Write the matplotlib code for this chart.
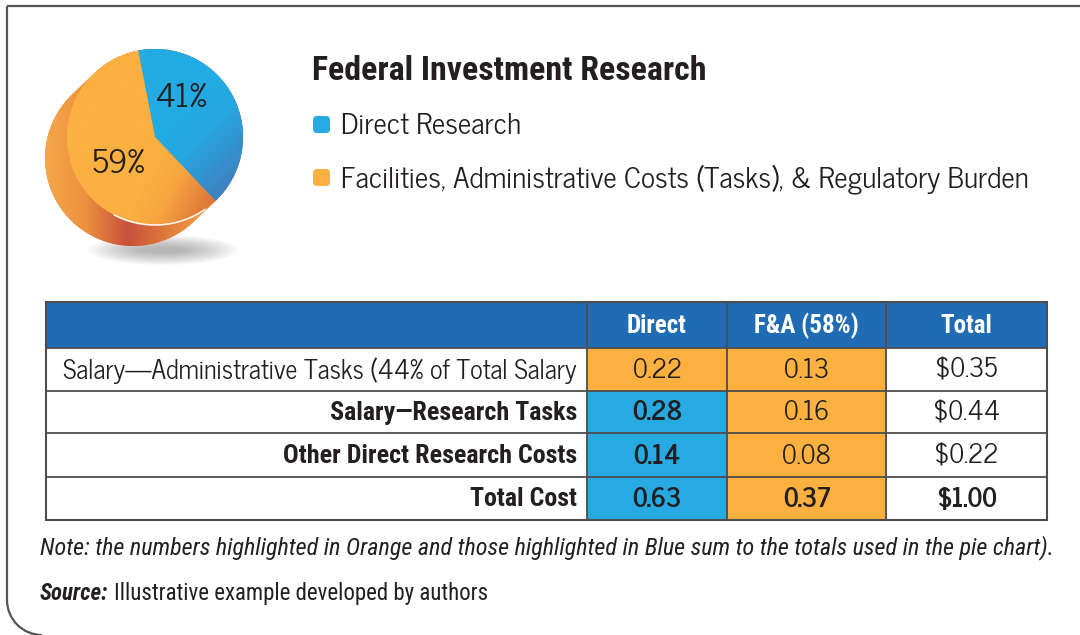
import numpy as np
import matplotlib
matplotlib.use("Agg")
import matplotlib.pyplot as plt
from matplotlib.colors import LinearSegmentedColormap
from matplotlib.patches import Polygon, Rectangle, Ellipse, Arc, FancyBboxPatch

# --- data ---
pie_labels = ["Direct Research",
              "Facilities, Administrative Costs (Tasks), & Regulatory Burden"]
pie_values = [41, 59]

col_headers = ["Direct", "F&A (58%)", "Total"]
row_labels = ["Salary\u2014Administrative Tasks (44% of Total Salary",
              "Salary\u2014Research Tasks",
              "Other Direct Research Costs",
              "Total Cost"]
direct_vals = [0.22, 0.28, 0.14, 0.63]
fa_vals = [0.13, 0.16, 0.08, 0.37]
total_vals = [0.35, 0.44, 0.22, 1.00]
# which pie group each "Direct" cell counts toward
direct_group = ["fa", "direct", "direct", "direct"]

note = ("Note: the numbers highlighted in Orange and those highlighted in Blue "
        "sum to the totals used in the pie chart).")
source = "Illustrative example developed by authors"

BLUE = "#27a9e1"
ORANGE = "#fbb040"
DARK = "#231f20"
HEAD = "#1f6bb4"
REG = "News Cycle"
COND = "Roboto Condensed"

fig = plt.figure(figsize=(10.8, 6.35), dpi=100)
ax = fig.add_axes([0, 0, 1, 1])
ax.set_xlim(0, 1080)
ax.set_ylim(635, 0)
ax.set_autoscale_on(False)
rend = fig.canvas.get_renderer()


def fit(t, width):
    w = t.get_window_extent(renderer=rend).width
    t.set_fontsize(t.get_fontsize() * width / w)
    return t.get_fontsize()


# --- frame ---
ax.plot([7, 7], [6, 600], color="#555555", lw=1.6, solid_capstyle="butt")
ax.plot([7, 1080], [6, 6], color="#555555", lw=1.6, solid_capstyle="butt")
ax.add_patch(Arc((42, 600), 70, 70, theta1=90, theta2=180, color="#555555", lw=1.6))

# --- 3d pie ---
cx, cy, r = 155, 137, 88
dx, dy = -22, 21

for k in range(14):
    ax.add_patch(Ellipse((163, 250), 150 - 8 * k, 30 - 1.8 * k, color="#666666",
                         alpha=0.04, lw=0, zorder=1))

phi = np.degrees(np.arctan2(dy, dx))
a1 = np.radians(np.linspace(phi - 90, phi + 90, 120))
a2 = np.radians(np.linspace(phi + 90, phi + 270, 120))
pts = np.r_[np.c_[cx + dx + r * np.cos(a1), cy + dy + r * np.sin(a1)],
            np.c_[cx + r * np.cos(a2), cy + r * np.sin(a2)]]
side = Polygon(pts, closed=True, facecolor="#e8893d", lw=0, zorder=2)
ax.add_patch(side)
side_cmap = LinearSegmentedColormap.from_list(
    "side", [(0, "#f5a747"), (0.2, "#ec9140"), (0.42, "#c8503c"),
             (0.6, "#de773b"), (0.8, "#f0a044"), (1, "#f5aa46")])
im = ax.imshow(np.linspace(0, 1, 300)[None, :], cmap=side_cmap, aspect="auto",
               extent=(cx + dx - r, cx + r, cy + dy + r, cy - r),
               interpolation="bilinear", zorder=3)
im.set_clip_path(side)

wedges, _ = ax.pie(pie_values, colors=[BLUE, ORANGE], startangle=-101,
                   counterclock=True, center=(cx, cy), radius=r, frame=True,
                   wedgeprops=dict(linewidth=0, zorder=4))

X, Y = np.meshgrid(np.linspace(0, 1, 250), np.linspace(0, 1, 250))
grads = [np.clip((X + Y - 1.0) / 0.9, 0, 1),
         np.clip((X - 0.5) * 2.2 + (Y - 0.65) * 1.2, 0, 1)]
cmaps = [LinearSegmentedColormap.from_list("b", [(0, "#22abe3"), (0.3, "#26a6df"), (1, "#4a70b3")]),
         LinearSegmentedColormap.from_list("o", [(0, "#fbb040"), (0.4, "#f6a541"), (1, "#de7339")])]
for w, g, cm in zip(wedges, grads, cmaps):
    gi = ax.imshow(g, cmap=cm, aspect="auto", extent=(cx - r, cx + r, cy + r, cy - r),
                   interpolation="bilinear", zorder=5)
    gi.set_clip_path(w)

ax.add_patch(Arc((cx, cy), 2 * r, 2 * r, theta1=55, theta2=118, color="white",
                 lw=1.2, alpha=0.9, zorder=6))

ax.text(181, 98, f"{pie_values[0]}%", ha="center", va="center", fontsize=24,
        color=DARK, family=REG, zorder=7)
ax.text(118, 164, f"{pie_values[1]}%", ha="center", va="center", fontsize=24,
        color=DARK, family=REG, zorder=7)

# --- title and legend ---
t = ax.text(312, 80, "Federal Investment Research", fontsize=20, family=COND,
            weight="bold", color=DARK, va="baseline")
fit(t, 393)
leg_texts = []
for lab, col, base in zip(pie_labels, [BLUE, ORANGE], [134, 187]):
    ax.add_patch(FancyBboxPatch((313, base - 18), 17, 17,
                                boxstyle="round,pad=0,rounding_size=4",
                                facecolor=col, lw=0))
    leg_texts.append(ax.text(341, base, lab, fontsize=18, family=REG, color=DARK,
                             va="baseline"))
leg_fs = fit(leg_texts[1], 686)
leg_texts[0].set_fontsize(leg_fs)

# --- table ---
xs = [46, 587, 727, 886, 1047]
ys = [302, 348, 391, 433, 477, 520]
gc = "#4d4d4d"

ax.add_patch(Rectangle((xs[0], ys[0]), xs[-1] - xs[0], ys[1] - ys[0],
                       facecolor=HEAD, lw=0))
for j, h in enumerate(col_headers):
    ax.text((xs[j + 1] + xs[j + 2]) / 2, (ys[0] + ys[1]) / 2 + 1, h,
            ha="center", va="center", family=COND, weight="bold",
            fontsize=18, color="white")

bold_labels = []
for i, lab in enumerate(row_labels):
    y0, y1 = ys[i + 1], ys[i + 2]
    ym = (y0 + y1) / 2 + 1
    last = i == len(row_labels) - 1
    cells = [
        (f"{direct_vals[i]:.2f}", BLUE if direct_group[i] == "direct" else ORANGE,
         direct_group[i] == "direct"),
        (f"{fa_vals[i]:.2f}", ORANGE, last),
        (f"${total_vals[i]:.2f}", "white", last),
    ]
    for j, (txt, fc, bold) in enumerate(cells):
        ax.add_patch(Rectangle((xs[j + 1], y0), xs[j + 2] - xs[j + 1], y1 - y0,
                               facecolor=fc, lw=0))
        ax.text((xs[j + 1] + xs[j + 2]) / 2, ym, txt, ha="center", va="center",
                family=REG, weight="bold" if bold else "normal", fontsize=19,
                color=DARK)
    if i == 0:
        lt = ax.text(577, ym, lab, ha="right", va="center", family=REG,
                     fontsize=17, color=DARK)
        fit(lt, 515)
    else:
        bold_labels.append(ax.text(577, ym, lab, ha="right", va="center",
                                   family=COND, weight="bold", fontsize=17,
                                   color=DARK))
bl_fs = fit(bold_labels[1], 294)
for b in bold_labels:
    b.set_fontsize(bl_fs)

for y in ys[1:-1]:
    ax.plot([xs[0], xs[-1]], [y, y], color=gc, lw=1.3)
for x in xs[1:-1]:
    ax.plot([x, x], [ys[0], ys[-1]], color=gc, lw=1.3)
ax.add_patch(Rectangle((xs[0], ys[0]), xs[-1] - xs[0], ys[-1] - ys[0],
                       facecolor="none", edgecolor=gc, lw=1.5))

# --- note and source ---
nt = ax.text(40, 554, note, family=COND, style="italic", fontsize=14,
             color=DARK, va="baseline")
fit(nt, 1018)
st = ax.text(40, 600, "Source:", family=COND, style="italic", weight="bold",
             fontsize=16.5, color=DARK, va="baseline")
sw = st.get_window_extent(renderer=rend).width
ax.text(40 + sw + 6, 600, source, family=COND, fontsize=16.5, color=DARK,
        va="baseline")

ax.set_xlim(0, 1080)
ax.set_ylim(635, 0)
ax.set_aspect("auto")
ax.axis("off")
fig.savefig("out.png", dpi=100)
